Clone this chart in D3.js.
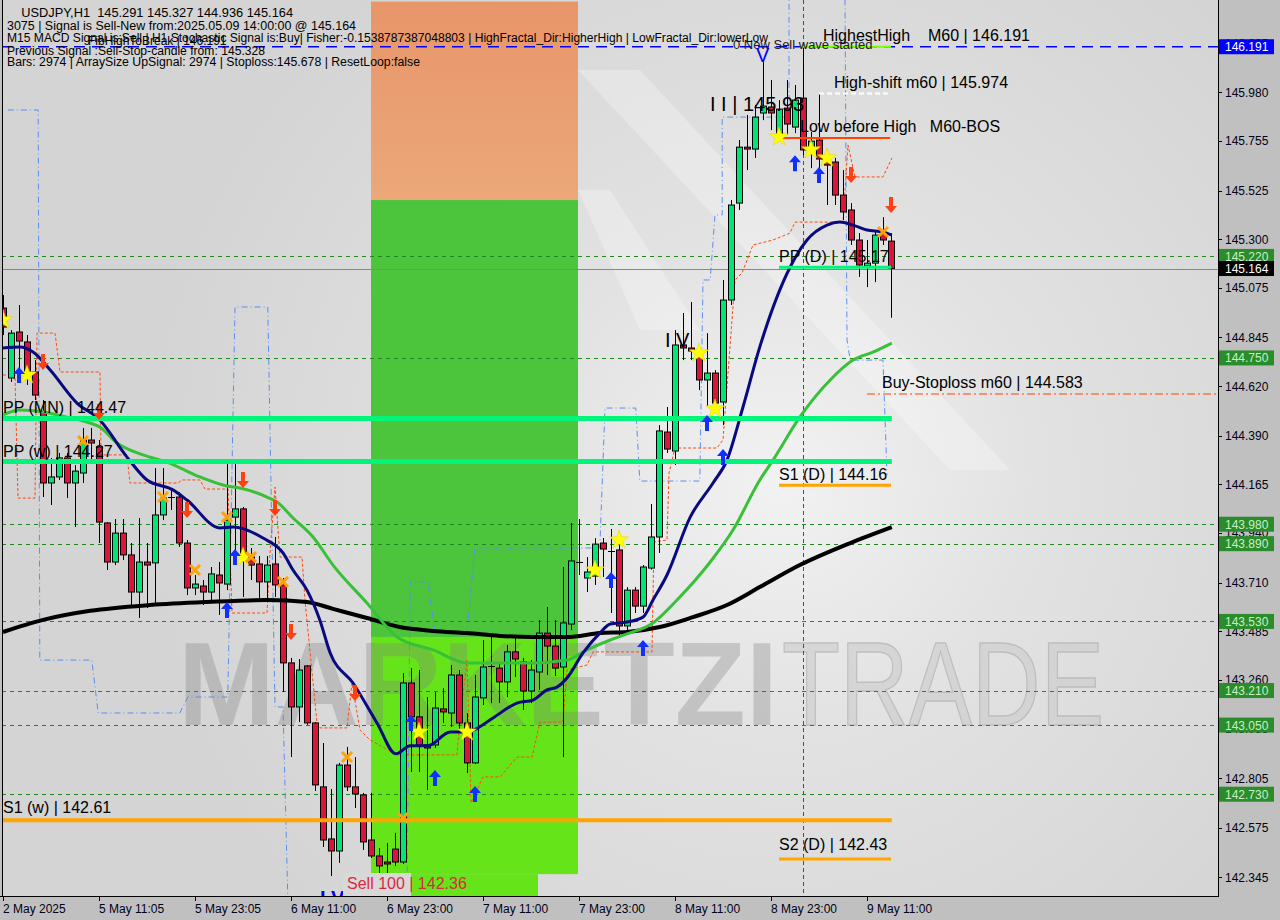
<!DOCTYPE html>
<html><head><meta charset="utf-8">
<script src="https://cdn.jsdelivr.net/npm/d3@7"></script>
<style>html,body{margin:0;padding:0;background:#c0c0c0;} svg{display:block;font-family:"Liberation Sans",Arial,sans-serif;} text{white-space:pre;}</style>
</head><body><svg id="c" width="1280" height="920"></svg>
<script>
// ---------- DATA ----------
const opens = [144.981,144.657,144.870,144.824,144.685,144.500,144.171,144.199,144.287,144.171,
144.217,144.370,144.338,143.986,143.805,143.939,143.838,143.666,143.805,143.801,
144.023,144.101,144.106,143.893,143.685,143.694,143.666,143.745,143.703,144.013,
144.051,143.828,143.796,143.713,143.796,143.699,143.338,143.134,143.324,143.060,
142.764,142.523,142.467,142.865,142.764,142.727,142.518,142.444,142.416,142.476,
142.416,143.245,143.088,142.958,142.958,143.125,143.106,143.282,143.060,142.875,
143.176,143.319,143.314,143.250,143.389,143.342,143.208,143.296,143.476,143.416,
143.319,143.518,143.805,143.731,143.740,143.893,143.856,143.861,143.509,143.675,
143.601,143.777,143.921,144.407,144.319,144.810,144.796,144.773,144.648,144.680,
144.546,145.018,145.467,145.726,145.717,145.884,145.912,145.782,145.907,145.819,
145.953,145.717,145.759,145.666,145.657,145.504,145.435,145.296,145.176,145.189,
145.328,145.291];
const highs = [145.041,144.879,144.995,144.856,144.740,144.555,144.287,144.310,144.310,144.254,
144.426,144.426,144.370,143.990,144.004,144.004,143.893,144.009,143.893,144.240,
144.240,144.139,144.129,143.907,143.745,143.722,143.782,143.805,144.268,144.263,
144.060,143.870,143.833,143.833,143.921,143.731,143.361,143.356,143.328,143.064,
142.967,142.754,142.875,142.949,142.902,142.736,142.736,142.481,142.504,142.551,
143.291,143.314,143.305,143.180,143.203,143.222,143.328,143.305,143.106,143.282,
143.444,143.458,143.338,143.421,143.458,143.361,143.351,143.537,143.597,143.537,
143.782,143.986,144.004,143.828,143.916,143.916,143.958,143.893,143.689,143.689,
143.791,144.074,144.439,144.523,144.879,144.958,145.009,144.801,144.865,144.694,
145.111,145.481,145.759,145.875,145.921,146.120,146.037,145.944,146.037,146.014,
146.191,145.796,145.976,145.713,145.676,145.620,145.467,145.328,145.296,145.342,
145.402,145.327];
const lows = [144.856,144.639,144.657,144.625,144.555,144.106,144.069,144.185,144.101,143.967,
144.171,144.277,143.893,143.768,143.791,143.814,143.592,143.546,143.592,143.606,
143.999,144.046,143.875,143.652,143.652,143.606,143.620,143.560,143.675,143.838,
143.643,143.722,143.629,143.620,143.643,143.203,142.902,143.064,143.051,142.745,
142.486,142.351,142.412,142.745,142.666,142.472,142.435,142.356,142.365,142.398,
142.407,142.833,142.833,142.750,142.944,143.060,143.041,143.027,142.828,142.870,
143.143,143.152,143.152,143.180,143.273,143.120,143.152,143.213,143.282,143.277,
142.902,143.490,143.745,143.666,143.699,143.736,143.569,143.453,143.467,143.569,
143.569,143.770,143.847,144.310,144.254,144.740,144.740,144.601,144.523,144.509,
144.439,144.995,145.435,145.620,145.676,145.851,145.805,145.759,145.782,145.791,
145.689,145.629,145.597,145.458,145.458,145.389,145.273,145.125,145.078,145.101,
145.273,144.936];
const closes = [144.893,144.865,144.828,144.657,144.578,144.171,144.199,144.287,144.171,144.226,
144.370,144.356,143.990,143.805,143.939,143.838,143.666,143.805,143.791,144.023,
144.101,144.106,143.893,143.685,143.703,143.666,143.750,143.708,143.999,144.051,
143.828,143.791,143.713,143.791,143.699,143.338,143.134,143.305,143.060,142.773,
142.518,142.467,142.865,142.764,142.731,142.509,142.444,142.398,142.407,142.416,
143.245,143.088,142.958,142.944,143.129,143.111,143.282,143.060,142.875,143.180,
143.319,143.322,143.250,143.389,143.356,143.208,143.305,143.476,143.416,143.314,
143.523,143.810,143.805,143.759,143.888,143.865,143.853,143.509,143.675,143.601,
143.782,143.921,144.412,144.328,144.810,144.796,144.782,144.648,144.680,144.541,
145.018,145.458,145.726,145.717,145.865,145.916,145.884,145.902,145.833,145.944,
145.713,145.754,145.671,145.643,145.504,145.426,145.296,145.180,145.189,145.319,
145.296,145.164];

// moving averages: [bar, price] samples
const maFast = [[0,144.796],[2.1,144.801],[3.75,144.778],[5.9,144.694],[9.25,144.541],[12.1,144.463],[15.5,144.291],[18,144.185],[21.25,144.139],[23,144.092],[27.1,143.963],[28.75,143.967],[32.5,143.916],[35,143.847],[36.25,143.768],[38,143.675],[39.6,143.537],[40.9,143.384],[43.75,143.245],[46.75,143.060],[49.1,142.917],[50.9,142.954],[53.1,142.954],[55.9,143.018],[57.1,143.018],[58.75,143.027],[61.25,143.083],[64.25,143.152],[66.25,143.166],[68,143.213],[69.25,143.226],[70.5,143.268],[72.5,143.384],[74.6,143.476],[75.9,143.518],[78,143.527],[80,143.550],[81.25,143.629],[83,143.745],[85.9,144.013],[88.75,144.171],[90.5,144.277],[92.5,144.523],[94.6,144.801],[98.4,145.171],[100.5,145.296],[103,145.365],[104.6,145.379],[106.25,145.365],[108,145.342],[110,145.333],[111.1,145.319]];
const maMid = [[0,144.486],[2.1,144.509],[5,144.500],[8,144.476],[10.5,144.453],[12.1,144.430],[14.25,144.356],[17.5,144.301],[20.5,144.268],[24.6,144.199],[28,144.157],[29.6,144.148],[33,144.106],[34.25,144.083],[36.25,144.009],[38.75,143.921],[41.25,143.791],[45.5,143.615],[49.25,143.458],[53.75,143.398],[58,143.338],[62.1,143.338],[66.25,143.338],[70.5,143.351],[73,143.398],[75.9,143.444],[78,143.472],[81.25,143.523],[84.25,143.629],[88.4,143.805],[91.25,143.953],[94.6,144.185],[96.25,144.277],[99.6,144.476],[103.4,144.648],[106.25,144.740],[108.75,144.777],[111.1,144.819]];
const maSlow = [[0,143.481],[5,143.537],[10.9,143.579],[18.4,143.606],[25.5,143.620],[33,143.629],[38,143.620],[41.25,143.588],[45.5,143.546],[49.6,143.504],[53.75,143.486],[58,143.476],[62.1,143.463],[66.25,143.458],[70.5,143.458],[74.6,143.476],[78,143.481],[82.1,143.504],[86.25,143.550],[90.5,143.606],[94.6,143.689],[99.6,143.791],[105.9,143.893],[111.1,143.967]];

// stepped channel (blue dash-dot) and trailing line (orange dashed): [bar, price]
const blueStep1 = [[0.6,145.898],[4.4,145.898],[4.6,143.351],[11.1,143.351],[11.9,143.106],[22.1,143.106],[23.1,143.180],[28.1,143.180],[29,144.986],[33.1,144.986],[34,143.134],[35,143.134],[35.6,142.25]];
const blueStep2 = [[50.5,142.25],[50.9,143.713],[53.1,143.713],[54,143.481],[58,143.481],[59,143.870],[74.6,143.870],[75.25,144.518],[79.1,144.518],[79.6,144.180],[87.1,144.180],[87.5,145.111],[88.4,145.111],[89,145.412],[89.9,145.412],[89.9,145.865],[98.25,145.865],[98.25,146.41]];
const blueStep3 = [[105.25,146.41],[105.5,144.833],[105.9,144.740],[110,144.740],[110.5,144.208]];
const orangeStep = [[0,144.671],[1.5,144.671],[1.875,144.101],[4,144.101],[4.25,144.865],[6.5,144.865],[7.125,144.685],[12.125,144.685],[12.25,144.301],[15.5,144.301],[15.875,144.171],[21.875,144.171],[22.375,144.185],[24.625,144.185],[25.25,144.143],[28.125,144.143],[28.625,143.569],[33,143.569],[33.375,143.847],[34,144.152],[34.625,143.828],[37.375,143.828],[37.75,143.629],[39.25,143.060],[39.625,143.037],[43,143.037],[43.625,143.245],[44.625,143.027],[45.875,142.981],[49.25,142.912],[56.75,142.912],[57,143.027],[58,143.351],[58.5,142.689],[60,142.810],[62.125,142.810],[64.25,142.902],[66.125,142.902],[67.125,143.064],[70,143.064],[70.5,143.305],[73,143.328],[73.75,143.389],[81.125,143.389],[81.375,143.898],[83,143.907],[83.25,144.217],[84,144.333],[89.25,144.333],[90,144.370],[91.5,145.111],[92.375,145.143],[93.75,145.273],[96.25,145.296],[98.375,145.328],[99,145.379],[105,145.379],[105.625,145.736],[106.5,145.588],[110,145.588],[111.125,145.676]];

// signal markers
const starBars = [0,3,30,52,58,74,77,87,89,97,101,103];
const starPrices = [144.926,144.671,143.828,143.018,143.018,143.768,143.907,144.773,144.514,145.773,145.713,145.676];
const crossBars = [10,20,24,28,31,35,43,50,110];
const crossPrices = [144.365,144.106,143.768,144.013,143.828,143.713,142.902,142.620,145.333];
const upBars = [2,28,29,51,54,59,76,80,88,90,99,102];
const upPrices = [144.671,143.583,143.828,143.060,142.805,142.731,143.722,143.407,144.449,144.291,145.652,145.597];
const downBars = [5,12,23,30,34,36,44,106,111];
const downPrices = [144.731,144.500,144.046,144.185,144.055,143.481,143.199,145.597,145.458];

// horizontal levels
const gridLevels = [145.220,144.750,143.980,143.890,143.530,143.210,143.050,142.730];
const gridLabels = ["145.220","144.750","143.980","143.890","143.530","143.210","143.050","142.730"];
const yTickValues = [146.205,145.980,145.755,145.525,145.300,145.075,144.845,144.620,144.390,144.165,143.940,143.710,143.485,143.260,143.035,142.805,142.575,142.345];
const xTickBars = [0,12,24,36,48,60,72,84,96,108];
const xTickLabels = ["2 May 2025","5 May 11:05","5 May 23:05","6 May 11:00","6 May 23:00","7 May 11:00","7 May 23:00","8 May 11:00","8 May 23:00","9 May 11:00"];
const infoLines = ["    USDJPY,H1  145.291 145.327 144.936 145.164",
 "3075 | Signal is Sell-New from:2025.05.09 14:00:00 @ 145.164",
 "M15 MACD Signal is:Sell | H1 Stochastic Signal is:Buy| Fisher:-0.1538787387048803 | HighFractal_Dir:HigherHigh | LowFractal_Dir:lowerLow",
 "Previous Signal :Sell-Stop-candle from: 145.328",
 "Bars: 2974 | ArraySize UpSignal: 2974 | Stoploss:145.678 | ResetLoop:false"];

// ---------- SCALES ----------
const W = 1280, H = 920, plotL = 2, plotR = 1218, plotB = 896;
const x = d3.scaleLinear().domain([0, 111]).range([3, 891]);
const y = d3.scaleLinear().domain([142.2587, 146.4073]).range([plotB, 0]);
const lastBar = x.invert(plotR);

const svg = d3.select("#c");
const defs = svg.append("defs");
const rg = defs.append("radialGradient").attr("id","bg").attr("gradientUnits","userSpaceOnUse")
  .attr("cx",780).attr("cy",480).attr("r",640);
rg.append("stop").attr("offset","0%").attr("stop-color","#f2f2f2");
rg.append("stop").attr("offset","40%").attr("stop-color","#e2e2e2");
rg.append("stop").attr("offset","100%").attr("stop-color","#d4d4d4");
const og = defs.append("linearGradient").attr("id","og").attr("x1",0).attr("y1",0).attr("x2",0).attr("y2",1);
og.append("stop").attr("offset","0%").attr("stop-color","#e8956a");
og.append("stop").attr("offset","100%").attr("stop-color","#eba878");
defs.append("clipPath").attr("id","plot").append("rect").attr("x",plotL).attr("y",0).attr("width",plotR-plotL).attr("height",plotB);

svg.append("rect").attr("width",W).attr("height",H).attr("fill","#c0c0c0");
svg.append("rect").attr("x",plotL).attr("y",0).attr("width",plotR-plotL).attr("height",plotB).attr("fill","url(#bg)");

const g = svg.append("g").attr("clip-path","url(#plot)");

// light logo shapes
[[[578,70],[640,70],[1010,470],[950,470]],[[578,190],[610,190],[700,330],[640,330]]]
  .forEach(p => g.append("polygon").attr("points", p.join(" ")).attr("fill","#ffffff").attr("opacity",0.28));

// zones
const zone = (b0,b1,p0,p1,fill) => g.append("rect").attr("x",x(b0)).attr("width",x(b1)-x(b0))
  .attr("y",y(p0)).attr("height",y(p1)-y(p0)).attr("fill",fill);
zone(46,71.875,146.40,145.481,"url(#og)");
zone(46,71.875,145.481,143.458,"#4cc43c");
zone(46,71.875,143.458,142.36,"#66e41a");
zone(50.875,66.875,142.36,142.2,"#66e41a");

// watermark
g.append("text").attr("x",178).attr("y",725).attr("font-size",118).attr("font-weight","bold")
  .attr("textLength",600).attr("lengthAdjust","spacingAndGlyphs").attr("fill","#808080").attr("opacity",0.32).text("MARKETZI");
g.append("text").attr("x",782).attr("y",725).attr("font-size",118)
  .attr("textLength",322).attr("lengthAdjust","spacingAndGlyphs").attr("fill","#cccccc").attr("opacity",0.6)
  .attr("stroke","#a8a8a8").attr("stroke-width",1.5).text("TRADE");

// dashed grid levels
gridLevels.forEach(v => g.append("line").attr("x1",plotL).attr("x2",plotR).attr("y1",Math.round(y(v))+0.5).attr("y2",Math.round(y(v))+0.5)
  .attr("stroke","#1f8a1f").attr("stroke-dasharray","4,4"));
// current price line & highest high line
g.append("line").attr("x1",plotL).attr("x2",plotR).attr("y1",Math.round(y(145.164))+0.5).attr("y2",Math.round(y(145.164))+0.5).attr("stroke","#7a8a99");
g.append("line").attr("x1",plotL).attr("x2",plotR).attr("y1",y(146.191)).attr("y2",y(146.191)).attr("stroke","#0000ff").attr("stroke-width",1.5).attr("stroke-dasharray","11,7");
// red vertical
g.append("line").attr("x1",x(100)+0.5).attr("x2",x(100)+0.5).attr("y1",0).attr("y2",plotB).attr("stroke","#d0142c").attr("stroke-dasharray","4,3");

// step lines
const ln = d3.line().x(d=>x(d[0])).y(d=>y(d[1]));
[blueStep1,blueStep2,blueStep3].forEach(s => g.append("path").attr("d",ln(s)).attr("fill","none").attr("stroke","#5b8ef0").attr("stroke-width",1).attr("stroke-dasharray","6,3,1,3"));
g.append("path").attr("d",ln(orangeStep)).attr("fill","none").attr("stroke","#ff4a10").attr("stroke-width",1).attr("stroke-dasharray","3,2");

// candles
const idx = d3.range(opens.length);
const cg = g.append("g");
idx.forEach(i => {
  const cx = Math.round(x(i)) + 0.5;
  cg.append("line").attr("x1",cx).attr("x2",cx).attr("y1",y(highs[i])).attr("y2",y(lows[i])).attr("stroke","#000").attr("stroke-width",1);
  const o = opens[i], c = closes[i];
  const top = y(Math.max(o,c)), bot = y(Math.min(o,c));
  if (Math.abs(bot-top) < 1.2) {
    cg.append("line").attr("x1",cx-3.5).attr("x2",cx+3.5).attr("y1",Math.round(top)+0.5).attr("y2",Math.round(top)+0.5).attr("stroke","#000");
  } else {
    cg.append("rect").attr("x",cx-3).attr("width",6).attr("y",top).attr("height",bot-top)
      .attr("fill", c >= o ? "#00e676" : "#dc143c").attr("stroke","#000").attr("stroke-width",1);
  }
});

// moving averages
const mln = d3.line().x(d=>x(d[0])).y(d=>y(d[1])).curve(d3.curveMonotoneX);
g.append("path").attr("d",mln(maSlow)).attr("fill","none").attr("stroke","#000").attr("stroke-width",4);
g.append("path").attr("d",mln(maMid)).attr("fill","none").attr("stroke","#38c038").attr("stroke-width",3);
g.append("path").attr("d",mln(maFast)).attr("fill","none").attr("stroke","#0a0a80").attr("stroke-width",3);

// pivot lines
const hl = (b0,b1,p,col,w,dash) => { const l = g.append("line").attr("x1",x(b0)).attr("x2",x(b1)).attr("y1",y(p)).attr("y2",y(p)).attr("stroke",col).attr("stroke-width",w); if(dash) l.attr("stroke-dasharray",dash); };
hl(-0.125,111.1,144.47,"#00f57a",5);
hl(-0.125,111.1,144.27,"#00f57a",5);
hl(-0.125,111.1,142.61,"#ffa500",4);
hl(97,111,145.17,"#00f57a",3);
hl(97,111,144.16,"#ffa500",3);
hl(97,111,142.43,"#ffa500",3);
hl(97,110.9,145.768,"#ff4500",2);
hl(102,110.6,145.974,"#ffffff",2,"5,3");
hl(99.6,111,146.191,"#7cfc00",2);
hl(108,lastBar,144.583,"#ff4500",1.2,"8,3,2,3");

// markers
const starPath = (r1,r2) => { let s=""; for(let k=0;k<10;k++){const r=k%2?r2:r1; const a=-Math.PI/2+k*Math.PI/5; s+=(k?"L":"M")+(r*Math.cos(a)).toFixed(2)+","+(r*Math.sin(a)).toFixed(2);} return s+"Z"; };
starBars.forEach((b,i)=> g.append("path").attr("d",starPath(10,4)).attr("transform",`translate(${x(b)},${y(starPrices[i])})`).attr("fill","#ffff00").attr("stroke","#e0d000").attr("stroke-width",0.5));
crossBars.forEach((b,i)=>{ const cx=x(b), cy=y(crossPrices[i]);
  g.append("path").attr("d",`M${cx-5},${cy-5}L${cx+5},${cy+5}M${cx+5},${cy-5}L${cx-5},${cy+5}`).attr("stroke","#ffa20a").attr("stroke-width",3).attr("fill","none"); });
const arrowUp = "M0,-8L6,-1L2,-1L2,8L-2,8L-2,-1L-6,-1Z";
upBars.forEach((b,i)=> g.append("path").attr("d",arrowUp).attr("transform",`translate(${x(b)},${y(upPrices[i])})`).attr("fill","#1030ff"));
downBars.forEach((b,i)=> g.append("path").attr("d",arrowUp).attr("transform",`translate(${x(b)},${y(downPrices[i])}) rotate(180)`).attr("fill","#ff4010"));

// chart texts
const txt = (xx,yy,s,size,col,extra) => { const t = g.append("text").attr("x",xx).attr("y",yy).attr("font-size",size).attr("fill",col||"#000").text(s); if(extra) extra(t); return t; };
txt(3,y(144.47)-5,"PP (MN) | 144.47",16);
txt(3,y(144.27)-5,"PP (w) | 144.27",16);
txt(3,y(142.61)-7,"S1 (w) | 142.61",16);
txt(x(97),y(145.17)-5,"PP (D) | 145.17",16);
txt(x(97),y(144.16)-5,"S1 (D) | 144.16",16);
txt(x(97),y(142.43)-9,"S2 (D) | 142.43",16);
txt(823,y(146.191)-6,"HighestHigh    M60 | 146.191",16);
txt(733,y(146.191)+2,"0 New Sell wave started",13,"#202020");
txt(834,y(145.974)-6,"High-shift m60 | 145.974",16);
txt(710,y(145.93)+8,"I I | 145.93",20);
txt(800,y(145.768)-6,"Low before High   M60-BOS",16);
txt(882,y(144.583)-6,"Buy-Stoploss m60 | 144.583",16);
txt(665,y(144.90)+21,"I V",20);
txt(x(95)-7,y(146.12),"V",20,"#0000ff");
txt(320,905,"I V",20,"#0000ff",t=>t.attr("font-weight","bold"));
g.append("rect").attr("x",343).attr("y",873).attr("width",68).attr("height",24).attr("fill","#d8d8d8");
txt(347,889,"Sell 100 | 142.36",16,"#dc2840");

// info lines
const tl = [286,349,761,258,413], ty = [17,29.5,42,54.5,66];
infoLines.forEach((s,i)=> svg.append("text").attr("x",7).attr("y",ty[i]).attr("font-size",12).attr("fill","#000")
  .attr("textLength",tl[i]).attr("lengthAdjust","spacingAndGlyphs").text(s));
svg.append("text").attr("x",88).attr("y",45).attr("font-size",12).attr("fill","#000").text("FibHighToBreak | 146.191");

// axes frame
svg.append("line").attr("x1",plotL+0.5).attr("x2",plotL+0.5).attr("y1",0).attr("y2",plotB).attr("stroke","#000");
svg.append("line").attr("x1",plotR+0.5).attr("x2",plotR+0.5).attr("y1",0).attr("y2",plotB+1).attr("stroke","#000");
svg.append("line").attr("x1",0).attr("x2",plotR+1).attr("y1",plotB+0.5).attr("y2",plotB+0.5).attr("stroke","#000");

// right axis
yTickValues.forEach(v => {
  const yy = Math.round(y(v))+0.5;
  svg.append("line").attr("x1",plotR).attr("x2",plotR+4).attr("y1",yy).attr("y2",yy).attr("stroke","#000");
  svg.append("text").attr("x",1225).attr("y",y(v)+4.5).attr("font-size",12).attr("fill","#000018").text(v.toFixed(3));
});
const box = (v,label,bg,fg) => {
  svg.append("rect").attr("x",plotR+1).attr("y",y(v)-7.5).attr("width",55).attr("height",15).attr("fill",bg);
  svg.append("text").attr("x",1225).attr("y",y(v)+4.5).attr("font-size",12).attr("fill",fg).text(label);
};
gridLevels.forEach((v,i)=> box(v,gridLabels[i],"#2a8c2a","#c8f0c8"));
box(145.164,"145.164","#000000","#ffffff");
box(146.191,"146.191","#0000ff","#ffffff");

// bottom axis
xTickBars.forEach((b,i)=>{
  const xx = Math.round(x(b))+0.5;
  svg.append("line").attr("x1",xx).attr("x2",xx).attr("y1",plotB).attr("y2",plotB+5).attr("stroke","#000");
  svg.append("text").attr("x",x(b)).attr("y",913).attr("font-size",12).attr("fill","#000018").text(xTickLabels[i]);
});
</script></body></html>
